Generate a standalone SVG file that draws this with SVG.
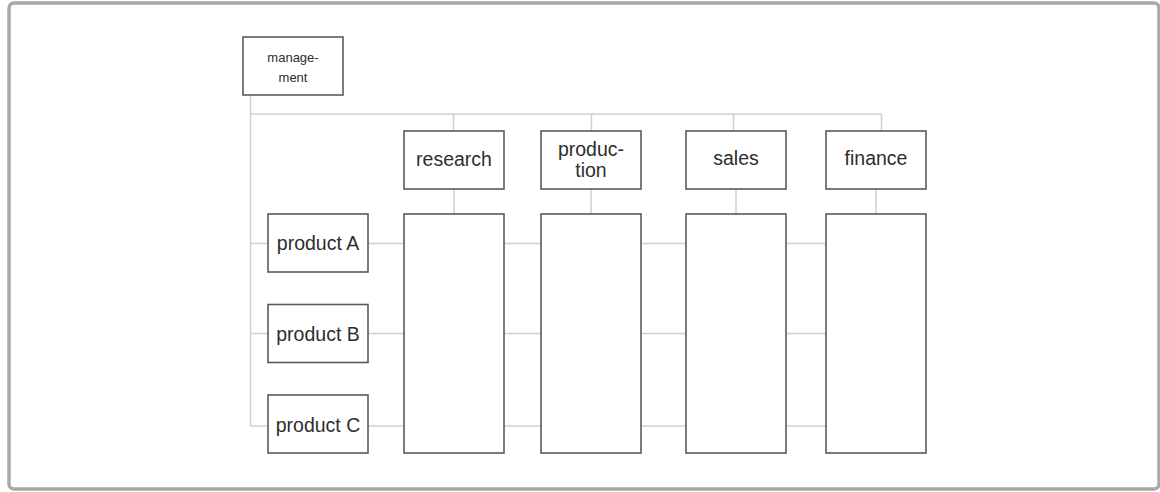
<svg xmlns="http://www.w3.org/2000/svg" width="1160" height="492" viewBox="0 0 1160 492">
<style>
.frame{fill:#fff;stroke:#a8a8a8;stroke-width:3.5}
.box{fill:#fff;stroke:#5a5a5a;stroke-width:1.6}
.ln{fill:none;stroke:#cfcfcf;stroke-width:1.5}
.t{font-family:"Liberation Sans",Arial,sans-serif;font-size:19.5px;fill:#2e2e2e;text-anchor:middle}
.s{font-size:13px}
</style>
<rect class="frame" x="9" y="3" width="1150" height="486" rx="5"/>
<g id="connectors">
<path class="ln" d="M250.5 95 V426 M250.5 114 H881.5 M453.5 114 V131 M591.5 114 V131 M733.5 114 V131 M881.5 114 V131 M454 189 V214 M591 189 V214 M736 189 V214 M876 189 V214 M250.5 243.5 H826 M250.5 333.5 H826 M250.5 426 H826"/>
</g>
<g id="management"><rect class="box" x="243" y="37" width="100" height="58"/><text class="t s" x="293" y="62">manage-</text><text class="t s" x="293" y="82">ment</text></g>
<g id="research"><rect class="box" x="404" y="131" width="100" height="58"/><text class="t" x="454" y="166">research</text></g>
<g id="production"><rect class="box" x="541" y="131" width="100" height="58"/><text class="t" x="591" y="155.5">produc-</text><text class="t" x="591" y="177">tion</text></g>
<g id="sales"><rect class="box" x="686" y="131" width="100" height="58"/><text class="t" x="736" y="165">sales</text></g>
<g id="finance"><rect class="box" x="826" y="131" width="100" height="58"/><text class="t" x="876" y="165">finance</text></g>
<g id="productA"><rect class="box" x="268" y="214" width="100" height="58"/><text class="t" x="318" y="250">product A</text></g>
<g id="productB"><rect class="box" x="268" y="304.5" width="100" height="58"/><text class="t" x="318" y="340.5">product B</text></g>
<g id="productC"><rect class="box" x="268" y="395" width="100" height="58"/><text class="t" x="318" y="432">product C</text></g>
<g id="research-col"><rect class="box" x="404" y="214" width="100" height="239"/></g>
<g id="production-col"><rect class="box" x="541" y="214" width="100" height="239"/></g>
<g id="sales-col"><rect class="box" x="686" y="214" width="100" height="239"/></g>
<g id="finance-col"><rect class="box" x="826" y="214" width="100" height="239"/></g>
</svg>
